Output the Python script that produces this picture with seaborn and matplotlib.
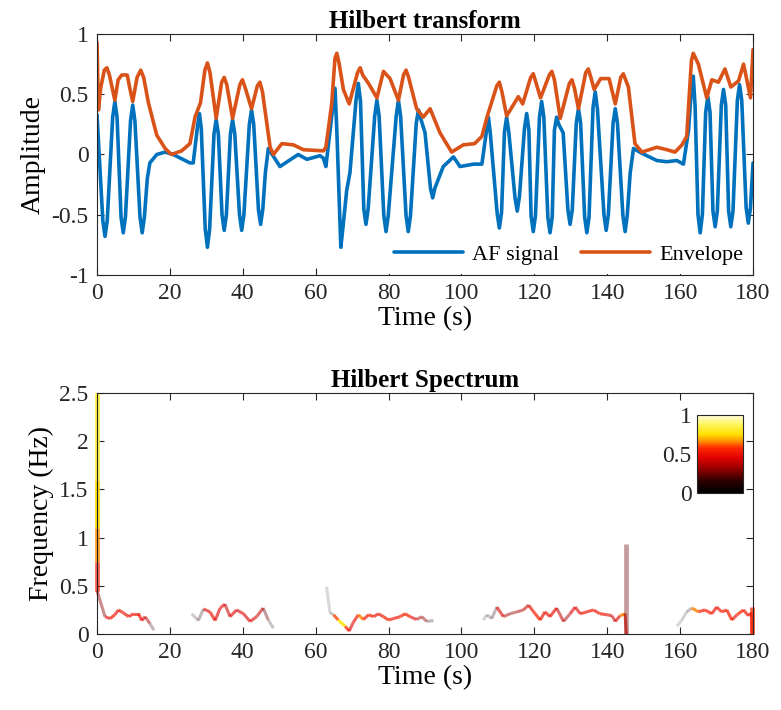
import numpy as np
import matplotlib
matplotlib.use("Agg")
import matplotlib.pyplot as plt
import seaborn as sns
from matplotlib.collections import LineCollection
from matplotlib.colors import LinearSegmentedColormap, Normalize
from matplotlib.cm import ScalarMappable

sns.set_theme(style="ticks")
plt.rcParams['font.family'] = ['Liberation Serif', 'DejaVu Serif']
plt.rcParams['axes.unicode_minus'] = False
plt.rcParams.update({
    'xtick.direction': 'in', 'ytick.direction': 'in',
    'xtick.top': True, 'ytick.right': True,
    'xtick.major.size': 5, 'ytick.major.size': 5,
    'xtick.major.width': 0.8, 'ytick.major.width': 0.8,
    'axes.edgecolor': '#262626', 'axes.linewidth': 0.8,
    'xtick.color': '#262626', 'ytick.color': '#262626',
    'text.color': 'black', 'axes.labelcolor': 'black',
})

# ---- top panel: AF signal and its envelope ----
af_time = [0.0, 1.6, 2.2, 2.8, 4.3, 4.9, 5.5, 6.6, 7.2, 7.8, 9.2, 9.8, 10.4, 11.8, 12.4,
           13.0, 13.8, 14.5, 16.4, 18.7, 20.9, 25.5, 26.4, 27.6, 28.1, 28.6, 29.7, 30.3,
           30.9, 32.1, 32.7, 33.3, 34.3, 34.9, 35.5, 36.6, 37.2, 37.8, 39.1, 39.7, 40.3,
           41.8, 42.4, 43.0, 44.3, 44.9, 45.5, 46.2, 47.0, 50.2, 55.2, 57.6, 61.2, 62.1,
           62.8, 64.8, 65.3, 65.8, 66.9, 67.5, 68.5, 69.4, 71.1, 71.7, 72.3, 73.2, 73.8,
           74.4, 76.2, 76.8, 77.4, 78.7, 79.3, 79.9, 82.1, 82.7, 83.3, 84.8, 85.4, 86.0,
           87.6, 88.2, 88.8, 90.0, 91.5, 92.1, 92.7, 95.0, 97.8, 99.6, 103.3, 105.6,
           106.9, 107.4, 107.9, 109.8, 110.4, 111.0, 111.8, 112.4, 113.0, 114.7, 115.3,
           115.9, 117.3, 117.9, 118.5, 119.1, 119.7, 120.3, 121.4, 122.0, 122.6, 123.7,
           124.3, 124.9, 125.5, 126.1, 126.7, 127.9, 129.2, 129.8, 130.4, 131.5, 132.1,
           132.7, 133.8, 134.4, 135.0, 136.1, 136.7, 137.3, 139.1, 139.7, 140.3, 141.6,
           142.2, 142.8, 144.3, 144.9, 145.5, 146.3, 147.2, 149.5, 153.6, 156.3, 159.1,
           160.9, 162.3, 163.1, 163.6, 164.1, 164.9, 165.5, 166.1, 167.0, 167.6, 168.2,
           169.0, 169.6, 170.2, 171.3, 171.9, 172.5, 173.3, 173.9, 174.5, 175.7, 176.3,
           176.9, 178.1, 178.7, 179.3, 180.0]
af_value = [0.33, -0.55, -0.68, -0.55, 0.31, 0.44, 0.31, -0.52, -0.65, -0.52, 0.28, 0.41,
            0.28, -0.52, -0.65, -0.52, -0.20, -0.07, 0.0, 0.02, 0.0, -0.07, -0.07, 0.24,
            0.34, 0.22, -0.62, -0.77, -0.62, 0.17, 0.29, 0.17, -0.50, -0.63, -0.50, 0.17,
            0.29, 0.17, -0.50, -0.63, -0.50, 0.25, 0.37, 0.25, -0.46, -0.58, -0.45, -0.15,
            0.05, -0.10, 0.0, -0.04, -0.01, -0.03, -0.10, 0.42, 0.55, 0.20, -0.77, -0.60,
            -0.30, -0.15, 0.46, 0.59, 0.44, -0.45, -0.58, -0.45, 0.32, 0.45, 0.32, -0.51,
            -0.64, -0.51, 0.32, 0.45, 0.32, -0.51, -0.64, -0.51, 0.26, 0.37, 0.30, 0.18,
            -0.28, -0.36, -0.28, -0.10, -0.02, -0.10, -0.08, -0.08, 0.20, 0.31, 0.18,
            -0.49, -0.61, -0.48, 0.19, 0.31, 0.18, -0.36, -0.47, -0.35, 0.22, 0.34, 0.20,
            -0.51, -0.64, -0.51, 0.31, 0.44, 0.31, -0.52, -0.65, -0.52, 0.20, 0.31, 0.25,
            0.18, -0.46, -0.58, -0.46, 0.26, 0.38, 0.26, -0.52, -0.65, -0.52, 0.39, 0.52,
            0.38, -0.50, -0.63, -0.50, 0.26, 0.38, 0.26, -0.51, -0.64, -0.50, -0.15, 0.05,
            0.01, -0.05, -0.06, -0.05, -0.08, 0.20, 0.55, 0.65, 0.40, -0.50, -0.65, -0.50,
            0.35, 0.48, 0.35, -0.47, -0.60, -0.47, 0.41, 0.54, 0.41, -0.47, -0.60, -0.47,
            0.45, 0.58, 0.45, -0.44, -0.57, -0.44, -0.07]

env_time = [0, 0.4, 1.0, 2.0, 2.7, 3.4, 4.9, 5.8, 6.8, 8.3, 9.0, 9.8, 11.0, 12.0, 12.8,
            14.1, 16.4, 18.7, 20.4, 23.2, 25.5, 26.9, 28.4, 29.6, 30.3, 31.0, 32.7, 34.2,
            34.9, 35.6, 37.2, 39.2, 39.9, 40.6, 42.4, 44.0, 44.7, 45.4, 47.5, 48.4, 50.7,
            53.9, 56.6, 62.1, 62.8, 64.4, 65.3, 65.8, 66.4, 67.6, 69.2, 71.5, 72.2, 72.9,
            74.5, 76.8, 78.6, 80.4, 82.7, 84.1, 84.8, 85.5, 87.7, 89.5, 91.4, 94.1, 97.3,
            100.5, 103.6, 105.6, 107.0, 109.7, 110.4, 111.1, 112.4, 115.6, 116.8, 119.0,
            119.7, 120.4, 121.7, 124.1, 124.8, 125.5, 127.1, 129.6, 130.3, 131.0, 132.1,
            134.1, 134.8, 135.5, 136.4, 138.2, 140.5, 142.2, 143.7, 144.4, 145.8, 147.6,
            149.5, 153.6, 156.3, 158.6, 160.5, 161.8, 163.1, 163.6, 165.0, 167.3, 168.7,
            170.5, 172.3, 173.9, 176.0, 177.4, 179.3, 180]
env_value = [0.93, 0.37, 0.55, 0.70, 0.72, 0.66, 0.45, 0.62, 0.66, 0.66, 0.55, 0.44, 0.64,
             0.70, 0.64, 0.43, 0.16, 0.05, 0.0, 0.03, 0.09, 0.31, 0.43, 0.70, 0.76, 0.68,
             0.30, 0.60, 0.64, 0.58, 0.30, 0.58, 0.62, 0.56, 0.38, 0.57, 0.60, 0.52, 0.06,
             0.0, 0.09, 0.08, 0.04, 0.03, 0.06, 0.42, 0.80, 0.84, 0.76, 0.54, 0.42, 0.68,
             0.72, 0.66, 0.59, 0.47, 0.69, 0.63, 0.45, 0.66, 0.70, 0.64, 0.38, 0.31, 0.38,
             0.18, 0.02, 0.08, 0.09, 0.15, 0.31, 0.57, 0.60, 0.52, 0.32, 0.48, 0.42, 0.64,
             0.67, 0.60, 0.47, 0.66, 0.69, 0.62, 0.30, 0.59, 0.62, 0.55, 0.38, 0.68, 0.71,
             0.64, 0.54, 0.63, 0.63, 0.42, 0.64, 0.67, 0.56, 0.09, 0.02, 0.06, 0.04, 0.02,
             0.08, 0.15, 0.78, 0.84, 0.75, 0.47, 0.62, 0.60, 0.71, 0.56, 0.61, 0.75, 0.47,
             0.87]

# ---- bottom panel: instantaneous frequency and amplitude (NaN = break) ----
spec_time = [0, 0, 0, 0, 0, 0.5, 2.2, 3.6, 4.9, 5.9, 7.2, 8.7, 10.0, 11.4, 12.3, 13.2,
             14.5, 15.6, np.nan,
             26.0, 27.8, 29.2, 31.0, 32.4, 33.8, 35.1, 36.5, 38.3, 40.2, 42.0, 43.8, 45.6,
             47.0, 48.4, np.nan,
             63.0, 63.9, 64.9, 66.2, 68.1, 69.2, 70.3, 71.7, 73.1, 74.5, 75.9, 77.2, 78.6,
             80.0, 81.3, 83.2, 84.5, 85.9, 87.7, 89.1, 90.5, 92.3, np.nan,
             106.0, 107.0, 108.3, 109.7, 111.5, 113.3, 115.2, 117.0, 118.4, 119.8, 121.6,
             122.9, 124.3, 126.1, 128.0, 129.8, 131.2, 132.6, 134.4, 136.2, 138.0, 139.9,
             141.3, 142.2, 143.5, 144.9, 145.2, 145.2, np.nan,
             159.1, 160.5, 161.8, 163.2, 165.0, 166.8, 168.7, 170.0, 171.4, 172.8, 174.2,
             175.6, 177.4, 178.7, 179.6, 179.7, 179.7]
spec_freq = [2.5, 1.6, 1.1, 0.75, 0.45, 0.39, 0.18, 0.16, 0.20, 0.25, 0.22, 0.18, 0.21,
             0.21, 0.14, 0.18, 0.11, 0.04, np.nan,
             0.21, 0.14, 0.26, 0.23, 0.14, 0.27, 0.31, 0.18, 0.25, 0.21, 0.13, 0.18, 0.27,
             0.145, 0.06, np.nan,
             0.49, 0.22, 0.20, 0.145, 0.08, 0.03, 0.12, 0.20, 0.15, 0.20, 0.18, 0.21, 0.18,
             0.145, 0.16, 0.18, 0.21, 0.18, 0.15, 0.18, 0.13, 0.14, np.nan,
             0.145, 0.20, 0.16, 0.28, 0.18, 0.21, 0.23, 0.25, 0.30, 0.23, 0.145, 0.23, 0.18,
             0.27, 0.13, 0.21, 0.28, 0.21, 0.23, 0.25, 0.21, 0.20, 0.19, 0.13, 0.19, 0.21,
             0.0, 0.93, np.nan,
             0.08, 0.145, 0.23, 0.27, 0.23, 0.25, 0.21, 0.28, 0.23, 0.25, 0.145, 0.20, 0.25,
             0.19, 0.22, 0.0, 0.28]
spec_amp = [0.85, 0.74, 0.66, 0.52, 0.4, 0.3, 0.45, 0.55, 0.5, 0.5, 0.5, 0.5, 0.5, 0.5,
            0.45, 0.35, 0.15, 0.05, np.nan,
            0.08, 0.15, 0.45, 0.5, 0.45, 0.45, 0.4, 0.45, 0.45, 0.45, 0.45, 0.4, 0.25,
            0.1, 0.05, np.nan,
            0.03, 0.1, 0.6, 0.8, 0.55, 0.45, 0.5, 0.65, 0.5, 0.55, 0.5, 0.5, 0.55, 0.5,
            0.5, 0.55, 0.55, 0.45, 0.35, 0.3, 0.15, 0.08, np.nan,
            0.05, 0.1, 0.15, 0.45, 0.35, 0.3, 0.35, 0.4, 0.5, 0.55, 0.5, 0.5, 0.5, 0.4,
            0.35, 0.45, 0.45, 0.5, 0.5, 0.5, 0.5, 0.45, 0.4, 0.45, 0.65, 0.5, 0.25, 0.25,
            np.nan,
            0.03, 0.06, 0.12, 0.65, 0.55, 0.55, 0.5, 0.5, 0.55, 0.55, 0.5, 0.55, 0.5, 0.5,
            0.5, 0.55, 0.55]

x_ticks = [0, 20, 40, 60, 80, 100, 120, 140, 160, 180]
amp_ticks = [-1, -0.5, 0, 0.5, 1]
amp_ticklabels = ['-1', '-0.5', '0', '0.5', '1']
freq_ticks = [0, 0.5, 1, 1.5, 2, 2.5]
freq_ticklabels = ['0', '0.5', '1', '1.5', '2', '2.5']
cbar_ticks = [0, 0.5, 1]
cbar_ticklabels = ['0', '0.5', '1']

TICK_FS = 17
LABEL_FS = 20
TITLE_FS = 18

fig = plt.figure(figsize=(7.81, 7.10), dpi=100)

# ---------------- Hilbert transform ----------------
ax1 = fig.add_axes([0.1242, 0.6127, 0.8400, 0.3394])
sns.lineplot(x=af_time, y=af_value, ax=ax1, color='#0072BD', linewidth=2.6,
             label='AF signal', sort=False, estimator=None)
sns.lineplot(x=env_time, y=env_value, ax=ax1, color='#D95319', linewidth=2.6,
             label='Envelope', sort=False, estimator=None)
ax1.set_xlim(0, 180)
ax1.set_ylim(-1, 1)
ax1.set_xticks(x_ticks)
ax1.set_xticklabels([str(t) for t in x_ticks])
ax1.set_yticks(amp_ticks)
ax1.set_yticklabels(amp_ticklabels)
ax1.tick_params(labelsize=TICK_FS, pad=6)
ax1.set_title('Hilbert transform', fontsize=TITLE_FS, fontweight='bold', pad=4)
ax1.set_xlabel('Time (s)', fontsize=LABEL_FS, labelpad=1)
ax1.set_ylabel('Amplitude', fontsize=LABEL_FS, labelpad=4)
ax1.legend(loc='lower right', ncol=2, fontsize=16, handlelength=3.1,
           columnspacing=1.0, handletextpad=0.4, borderaxespad=0.05,
           frameon=True, facecolor='white', edgecolor='none', framealpha=1)

# ---------------- Hilbert Spectrum ----------------
spec_cmap = LinearSegmentedColormap.from_list('hilbert_hot', [
    (0.0, '#000000'), (0.15, '#2a0000'), (0.32, '#9a0000'), (0.45, '#e00000'),
    (0.58, '#ff2a00'), (0.66, '#ff8c00'), (0.75, '#ffe000'), (0.88, '#fff55a'),
    (1.0, '#fffbe0')])
norm = Normalize(0, 1)

ax2 = fig.add_axes([0.1242, 0.1070, 0.8400, 0.3395])
pts = np.column_stack([spec_time, spec_freq])
amps = np.array(spec_amp)
segs, seg_amp, seg_lw = [], [], []
for i in range(len(pts) - 1):
    if np.isnan(pts[i]).any() or np.isnan(pts[i + 1]).any():
        continue
    segs.append(pts[i:i + 2])
    seg_amp.append(amps[i])
    # vertical sweeps are drawn a little heavier, as in the original
    seg_lw.append(3.4 if pts[i, 0] == pts[i + 1, 0] else 2.2)
seg_amp = np.array(seg_amp)
rgba = spec_cmap(norm(seg_amp))
rgba[:, 3] = np.clip(0.12 + 1.1 * seg_amp, 0, 1)
lc = LineCollection(segs, colors=rgba, linewidths=seg_lw, capstyle='butt',
                    joinstyle='round')
lc.set_clip_on(False)
ax2.add_collection(lc)
ax2.set_xlim(0, 180)
ax2.set_ylim(0, 2.5)
ax2.set_xticks(x_ticks)
ax2.set_xticklabels([str(t) for t in x_ticks])
ax2.set_yticks(freq_ticks)
ax2.set_yticklabels(freq_ticklabels)
ax2.tick_params(labelsize=TICK_FS, pad=6)
ax2.set_title('Hilbert Spectrum', fontsize=TITLE_FS, fontweight='bold', pad=4)
ax2.set_xlabel('Time (s)', fontsize=LABEL_FS, labelpad=1)
ax2.set_ylabel('Frequency (Hz)', fontsize=LABEL_FS, labelpad=4)

cax = fig.add_axes([0.8924, 0.3056, 0.0589, 0.1100])
cb = fig.colorbar(ScalarMappable(norm=norm, cmap=spec_cmap), cax=cax)
cb.set_ticks(cbar_ticks)
cb.set_ticklabels(cbar_ticklabels)
cax.yaxis.set_ticks_position('left')
cax.tick_params(left=False, right=False, labelleft=True, labelright=False,
                labelsize=TICK_FS, pad=4)
cb.outline.set_edgecolor('#262626')
cb.outline.set_linewidth(0.8)

fig.savefig('out.png', dpi=100)
